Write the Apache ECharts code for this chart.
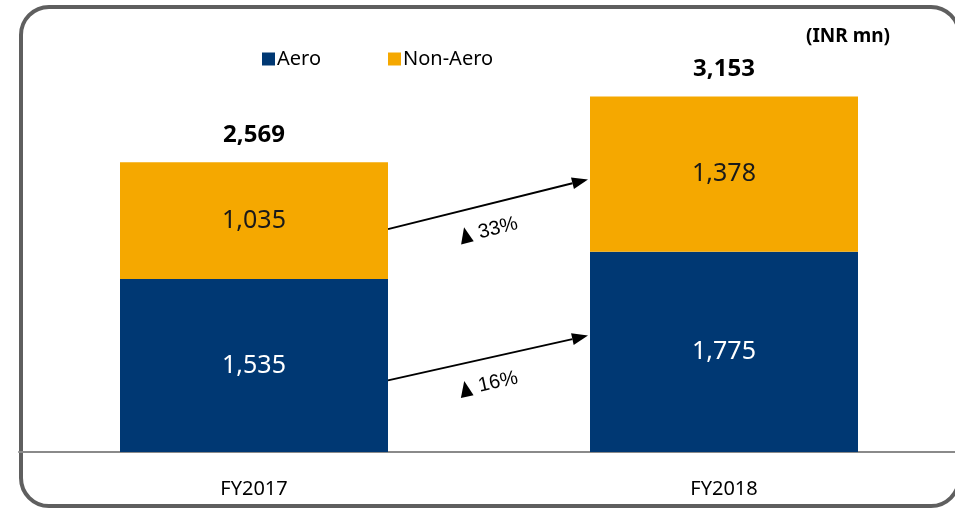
<!DOCTYPE html>
<html>
<head>
<meta charset="utf-8">
<script src="https://cdn.jsdelivr.net/npm/echarts@6/dist/echarts.min.js"></script>
<style>
  html, body { margin: 0; padding: 0; background: #fff; overflow: hidden; width: 955px; height: 508px; }
  .frame {
    position: absolute; left: 19px; top: 5px; width: 934px; height: 495px;
    border: 4px solid #5f5f5f; border-radius: 30px;
  }
  #chart { position: absolute; left: 0; top: 0; width: 965px; height: 508px; }
</style>
</head>
<body>
<div class="frame"></div>
<div id="chart"></div>
<script>
const years = ['FY2017', 'FY2018'];
const aero = [1535, 1775];
const nonAero = [1035, 1378];
const totals = [2569, 3153];

// growth arrows: [start value on FY2017 side, end value on FY2018 side], label
const arrowFrom = [1976, 635];
const arrowTo = [2417, 1032];
const growth = ['33%', '16%'];

const fmt = v => v.toLocaleString('en-US');
const font = '"Noto Sans", sans-serif';

const chart = echarts.init(document.getElementById('chart'));

chart.setOption({
  animation: false,
  title: {
    text: '(INR mn)',
    left: 801, top: 22,
    textStyle: { fontFamily: font, fontSize: 19, fontWeight: 'bold', color: '#000' }
  },
  legend: {
    data: ['Aero', 'Non-Aero'],
    left: 257, top: 44,
    itemWidth: 13, itemHeight: 13, itemGap: 67,
    icon: 'rect',
    textStyle: { fontFamily: font, fontSize: 20, color: '#000', padding: [0, 0, 0, -3] }
  },
  grid: { left: 19, width: 940, top: 55, bottom: 56 },
  xAxis: {
    type: 'category',
    data: years,
    axisTick: { show: false },
    axisLine: { lineStyle: { color: '#8a8a8a', width: 2 } },
    axisLabel: { fontFamily: font, fontSize: 20, color: '#000', margin: 27 }
  },
  yAxis: {
    type: 'value', min: 0, max: 3520,
    show: false, splitLine: { show: false }
  },
  series: [
    {
      name: 'Aero', type: 'bar', stack: 'a', barWidth: 268,
      data: aero,
      itemStyle: { color: '#003873' },
      label: { show: true, position: 'inside', formatter: p => fmt(p.value),
        fontFamily: font, fontSize: 25, color: '#fff' }
    },
    {
      name: 'Non-Aero', type: 'bar', stack: 'a', barWidth: 268,
      data: nonAero,
      itemStyle: { color: '#F5A800' },
      label: { show: true, position: 'inside', formatter: p => fmt(p.value),
        fontFamily: font, fontSize: 25, color: '#1a1a1a' }
    },
    {
      name: 'Total', type: 'bar', stack: 'a', barWidth: 268,
      data: totals.map(() => 0),
      itemStyle: { color: 'transparent' },
      label: { show: true, position: 'top', distance: 15,
        formatter: p => fmt(totals[p.dataIndex]),
        fontFamily: font, fontSize: 24, fontWeight: 'bold', color: '#000' }
    }
  ]
});

// growth arrows between the bars
const half = 134;
const graphics = [];
arrowFrom.forEach((v, i) => {
  const a = chart.convertToPixel({ seriesIndex: 0 }, [0, v]);
  const b = chart.convertToPixel({ seriesIndex: 0 }, [1, arrowTo[i]]);
  const x1 = a[0] + half, y1 = a[1];
  const x2 = b[0] - half - 2, y2 = b[1];
  const ang = Math.atan2(y2 - y1, x2 - x1);
  const hl = 16, hw = 6;
  const bx = x2 - hl * Math.cos(ang), by = y2 - hl * Math.sin(ang);
  const px = -Math.sin(ang), py = Math.cos(ang);
  graphics.push({
    type: 'line',
    shape: { x1: x1, y1: y1, x2: bx, y2: by },
    style: { stroke: '#000', lineWidth: 2 }
  });
  graphics.push({
    type: 'polygon',
    shape: { points: [[x2, y2], [bx + px * hw, by + py * hw], [bx - px * hw, by - py * hw]] },
    style: { fill: '#000' }
  });
  const mx = (x1 + x2) / 2, my = (y1 + y2) / 2;
  // small up-triangle marker
  graphics.push({
    type: 'polygon',
    x: mx - 23, y: my + 31, rotation: -ang,
    shape: { points: [[1, -8], [7, 8], [-6, 8]] },
    style: { fill: '#000' }
  });
  graphics.push({
    type: 'text',
    x: mx + 10, y: my + 24, rotation: -ang,
    style: {
      text: growth[i],
      font: '20px "Liberation Sans", Arial, sans-serif',
      fill: '#000', align: 'center', verticalAlign: 'middle'
    }
  });
});
chart.setOption({ graphic: graphics });
</script>
</body>
</html>
